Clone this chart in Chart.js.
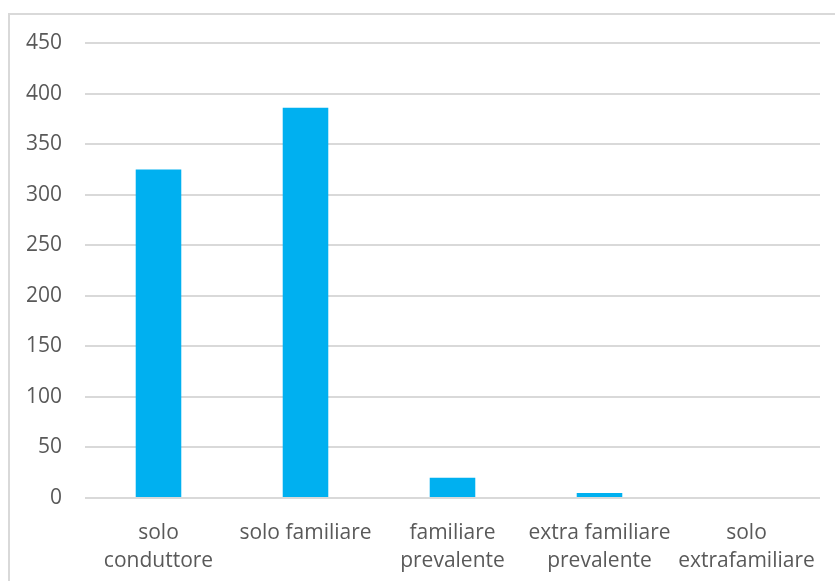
<!DOCTYPE html>
<html lang="it">
<head>
    <meta charset="UTF-8">
    <script src="https://cdn.jsdelivr.net/npm/chart.js"></script>
    <style>
        html, body { margin: 0; padding: 0; background: #fff; overflow: hidden; }
        #frame {
            position: absolute; left: 8px; top: 13px;
            width: 900px; height: 700px;
            border: 2px solid #d9d9d9; box-sizing: border-box;
        }
        #wrap { position: absolute; left: 0; top: 0; width: 835px; height: 581px; }
    </style>
    <title>Manodopera</title>
</head>
<body>
<div id="frame"></div>
<div id="wrap"><canvas id="chart"></canvas></div>

<script>
    // categorie e valori
    const categories = [
        ['solo', 'conduttore'],
        'solo familiare',
        ['familiare', 'prevalente'],
        ['extra familiare', 'prevalente'],
        ['solo', 'extrafamiliare']
    ];
    const values = [325, 386, 20, 5, 0];
    const yTicks = [0, 50, 100, 150, 200, 250, 300, 350, 400, 450];

    const ctx = document.getElementById('chart').getContext('2d');
    new Chart(ctx, {
        type: 'bar',
        data: {
            labels: categories,
            datasets: [{
                data: values,
                backgroundColor: '#00b0f0',
                borderWidth: 0,
                categoryPercentage: 1,
                barPercentage: 0.31
            }]
        },
        options: {
            responsive: true,
            maintainAspectRatio: false,
            animation: false,
            layout: { padding: { top: 43, right: 15, left: 0, bottom: 0 } },
            plugins: { legend: { display: false }, tooltip: { enabled: false } },
            scales: {
                x: {
                    grid: { display: false },
                    border: { display: false },
                    afterFit: s => { s.height = 83; },
                    ticks: {
                        color: '#595959',
                        font: { family: 'Open Sans', size: 21, lineHeight: 1.33 },
                        padding: 13,
                        maxRotation: 0,
                        autoSkip: false
                    }
                },
                y: {
                    min: 0,
                    max: 450,
                    afterFit: s => { s.width = 85; },
                    afterBuildTicks: s => { s.ticks = yTicks.map(v => ({ value: v })); },
                    grid: { color: '#d9d9d9', lineWidth: 2, drawTicks: false },
                    border: { display: false },
                    ticks: {
                        color: '#595959',
                        font: { family: 'Open Sans', size: 21 },
                        padding: 23
                    }
                }
            }
        }
    });
</script>
</body>
</html>
